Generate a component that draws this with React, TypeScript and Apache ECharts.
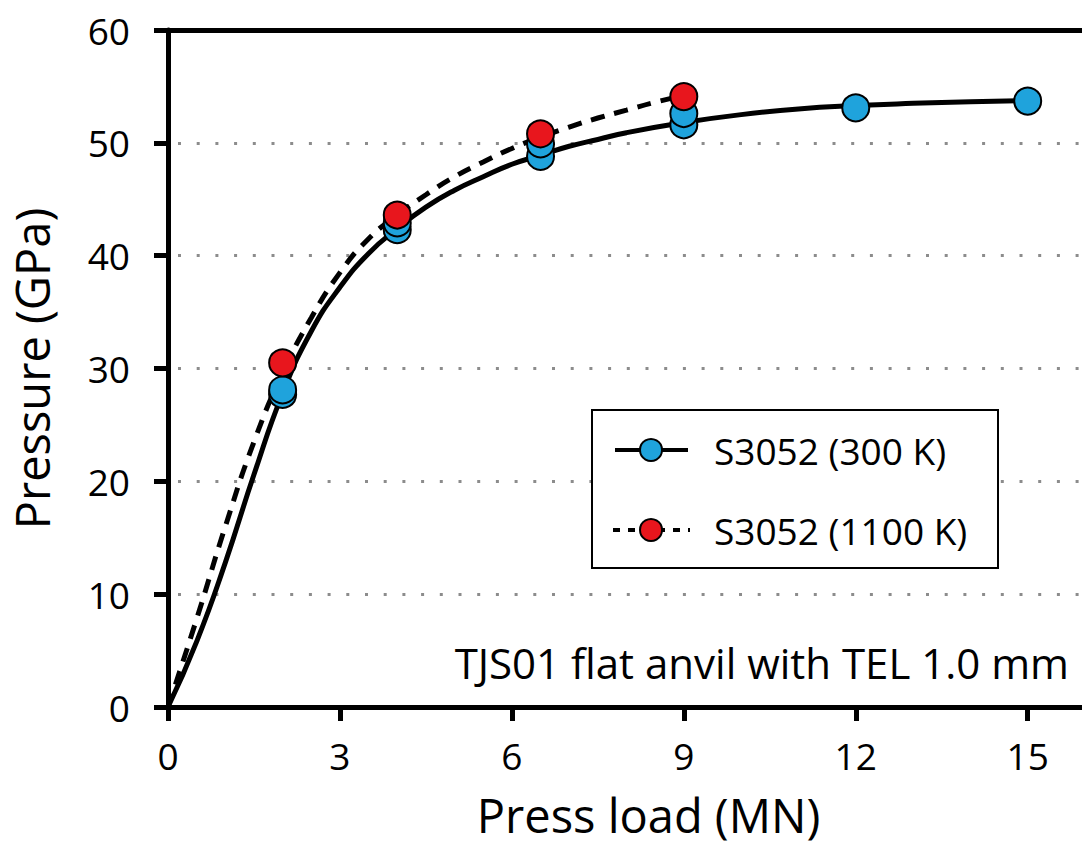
import React, { useEffect, useRef } from "react";
import * as echarts from "echarts";

const xTicks = [0, 3, 6, 9, 12, 15];
const yTicks = [0, 10, 20, 30, 40, 50, 60];

const fitX300 = [0, 0.5, 1, 1.5, 2, 2.5, 3, 3.5, 4, 4.5, 5, 5.5, 6, 6.5, 7, 7.5, 8, 9, 10, 11, 12, 13, 14, 15];
const fitY300 = [0, 5.8, 12.8, 20.6, 27.8, 33.3, 37.2, 40.2, 42.4, 44.3, 45.8, 47.0, 48.1, 48.9, 49.7, 50.3, 50.9, 51.8, 52.5, 53.0, 53.3, 53.5, 53.65, 53.75];

const fitX1100 = [0, 0.5, 1, 1.5, 2, 2.5, 3, 3.5, 4, 4.5, 5, 5.5, 6, 6.5, 7, 7.5, 8, 8.5, 9];
const fitY1100 = [0, 7.8, 16, 23.5, 29.6, 34.5, 38.5, 41.5, 43.6, 45.4, 47.0, 48.3, 49.5, 50.5, 51.4, 52.2, 52.9, 53.6, 54.2];

const loadsPoints300 = [2, 2, 4, 4, 6.5, 6.5, 9, 9, 12, 15];
const pressPoints300 = [27.7, 28.1, 42.3, 42.9, 48.8, 49.9, 51.6, 52.6, 53.1, 53.7];

const loadsPoints1100 = [2, 4, 6.5, 9];
const pressPoints1100 = [30.5, 43.6, 50.8, 54.1];

const legendLabels = ["S3052 (300 K)", "S3052 (1100 K)"];
const annotation = "TJS01 flat anvil with TEL 1.0 mm";

const BLUE = "#1fa3dc";
const RED = "#e8161d";
const FONT = "Open Sans";

export default function App() {
  const ref = useRef<HTMLDivElement>(null);
  useEffect(() => {
    if (!ref.current) return;
    const chart = echarts.init(ref.current, null, { renderer: "svg" });
    const zip = (a: number[], b: number[]) => a.map((v, i) => [v, b[i]]);
    chart.setOption({
      animation: false,
      backgroundColor: "#ffffff",
      textStyle: { fontFamily: FONT, color: "#000" },
      grid: { left: 168, width: 917, top: 30, height: 677, outerBoundsMode: "none", containLabel: false },
      xAxis: [
        {
          type: "value",
          min: 0,
          max: 16,
          interval: 3,
          name: "Press load (MN)",
          nameLocation: "middle",
          nameGap: 84,
          nameTextStyle: { fontFamily: FONT, fontSize: 47, color: "#000", padding: [0, 0, 0, 44] },
          axisLine: { show: true, onZero: false, lineStyle: { color: "#000", width: 5 } },
          axisTick: { show: true, inside: false, length: 14, customValues: xTicks, lineStyle: { color: "#000", width: 5 } },
          axisLabel: {
            margin: 30,
            fontSize: 37,
            fontFamily: FONT,
            color: "#000",
            customValues: xTicks,
            formatter: (v: number) => (xTicks.includes(v) ? String(v) : ""),
          },
          splitLine: { show: false },
        },
        {
          type: "value",
          position: "top",
          min: 0,
          max: 16,
          interval: 3,
          axisLine: { show: true, onZero: false, lineStyle: { color: "#000", width: 5 } },
          axisTick: { show: false },
          axisLabel: { show: false },
          splitLine: { show: false },
        },
      ],
      yAxis: {
        type: "value",
        min: 0,
        max: 60,
        interval: 10,
        name: "Pressure (GPa)",
        nameLocation: "middle",
        nameGap: 113,
        nameTextStyle: { fontFamily: FONT, fontSize: 47, color: "#000" },
        axisLine: { show: true, onZero: false, lineStyle: { color: "#000", width: 5 } },
        axisTick: { show: true, inside: false, length: 14, lineStyle: { color: "#000", width: 5 } },
        axisLabel: {
          margin: 38,
          fontSize: 37,
          fontFamily: FONT,
          color: "#000",
          formatter: (v: number) => (yTicks.includes(v) ? String(v) : ""),
        },
        splitLine: {
          show: true,
          lineStyle: { color: "#8c8c8c", width: 3, type: [3, 15.7], dashOffset: -10 },
        },
      },
      series: [
        {
          type: "line",
          name: "fit300",
          data: zip(fitX300, fitY300),
          smooth: 0.5,
          showSymbol: false,
          symbol: "none",
          lineStyle: { color: "#000", width: 5 },
          z: 2,
        },
        {
          type: "line",
          name: "fit1100",
          data: zip(fitX1100, fitY1100),
          smooth: 0.5,
          showSymbol: false,
          symbol: "none",
          lineStyle: { color: "#000", width: 5, type: [14, 10] },
          z: 2,
        },
        {
          type: "scatter",
          name: legendLabels[0],
          data: zip(loadsPoints300, pressPoints300),
          symbol: "circle",
          symbolSize: 27,
          itemStyle: { color: BLUE, borderColor: "#000", borderWidth: 2, opacity: 1 },
          z: 3,
        },
        {
          type: "scatter",
          name: legendLabels[1],
          data: zip(loadsPoints1100, pressPoints1100),
          symbol: "circle",
          symbolSize: 27,
          itemStyle: { color: RED, borderColor: "#000", borderWidth: 2, opacity: 1 },
          z: 4,
        },
      ],
      graphic: [
        {
          type: "rect",
          shape: { x: 592, y: 410, width: 406, height: 158 },
          style: { fill: "#fff", stroke: "#000", lineWidth: 2 },
          z: 10,
        },
        {
          type: "line",
          shape: { x1: 615, y1: 450, x2: 688, y2: 450 },
          style: { stroke: "#000", lineWidth: 4 },
          z: 11,
        },
        {
          type: "circle",
          shape: { cx: 651, cy: 450, r: 11 },
          style: { fill: BLUE, stroke: "#000", lineWidth: 2 },
          z: 12,
        },
        {
          type: "text",
          x: 714,
          y: 450,
          style: { text: legendLabels[0], fontFamily: FONT, fontSize: 37, fill: "#000", verticalAlign: "middle" },
          z: 12,
        },
        {
          type: "line",
          shape: { x1: 613, y1: 530, x2: 690, y2: 530 },
          style: { stroke: "#000", lineWidth: 4, lineDash: [7, 8] },
          z: 11,
        },
        {
          type: "circle",
          shape: { cx: 651, cy: 530, r: 11 },
          style: { fill: RED, stroke: "#000", lineWidth: 2 },
          z: 12,
        },
        {
          type: "text",
          x: 714,
          y: 530,
          style: { text: legendLabels[1], fontFamily: FONT, fontSize: 37, fill: "#000", verticalAlign: "middle" },
          z: 12,
        },
        {
          type: "text",
          x: 1069,
          y: 662,
          style: { text: annotation, fontFamily: FONT, fontSize: 42, fill: "#000", align: "right", verticalAlign: "middle" },
          z: 12,
        },
      ],
    });
    return () => chart.dispose();
  }, []);
  return (
    <div
      ref={ref}
      style={{ position: "absolute", left: 0, top: 0, width: 1082, height: 852, overflow: "hidden" }}
    />
  );
}
